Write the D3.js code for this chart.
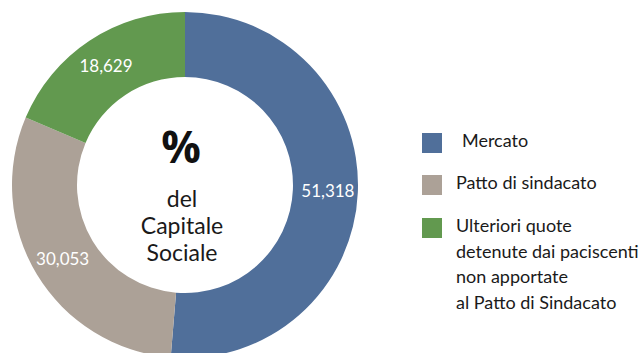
<!DOCTYPE html>
<html>
<head>
<meta charset="utf-8">
<script src="https://cdn.jsdelivr.net/npm/d3@7"></script>
<style>
  html, body { margin: 0; padding: 0; background: #fff; }
  svg { display: block; font-family: Lato, "Open Sans", sans-serif; }
</style>
</head>
<body>
<svg id="chart" width="640" height="353"></svg>
<script>
// Composizione del capitale sociale (%)
const categories = ["Mercato", "Patto di sindacato", "Ulteriori quote detenute dai paciscenti non apportate al Patto di Sindacato"];
const values = [51.318, 30.053, 18.629];
const valueLabels = ["51,318", "30,053", "18,629"];
const colors = ["#506f9a", "#aca197", "#62994f"];
const legendLines = [
  ["Mercato"],
  ["Patto di sindacato"],
  ["Ulteriori quote", "detenute dai paciscenti", "non apportate", "al Patto di Sindacato"]
];
const centerLines = ["del", "Capitale", "Sociale"];

const svg = d3.select("#chart");
const cx = 185, cy = 185;
const outerR = 173, innerR = 108;

const pie = d3.pie().sort(null).value(d => d);
const arcs = pie(values);
const arc = d3.arc().innerRadius(innerR).outerRadius(outerR);
const labelArc = d3.arc().innerRadius(143).outerRadius(143);

const g = svg.append("g").attr("transform", `translate(${cx},${cy})`);

g.selectAll("path.slice")
  .data(arcs)
  .join("path")
  .attr("class", "slice")
  .attr("d", arc)
  .attr("fill", (d, i) => colors[i]);

g.selectAll("text.val")
  .data(arcs)
  .join("text")
  .attr("class", "val")
  .attr("transform", d => `translate(${labelArc.centroid(d)})`)
  .attr("text-anchor", "middle")
  .attr("dominant-baseline", "central")
  .attr("fill", "#fff")
  .attr("font-size", 17)
  .text((d, i) => valueLabels[i]);

// Testo centrale
g.append("text")
  .attr("x", -4).attr("y", -22)
  .attr("text-anchor", "middle")
  .attr("font-family", "'Open Sans', sans-serif")
  .attr("font-size", 44)
  .attr("font-weight", "bold")
  .attr("fill", "#111")
  .text("%");

g.selectAll("text.center")
  .data(centerLines)
  .join("text")
  .attr("class", "center")
  .attr("x", -3)
  .attr("y", (d, i) => 22 + i * 27)
  .attr("text-anchor", "middle")
  .attr("font-size", 23)
  .attr("fill", "#1a1a1a")
  .text(d => d);

// Legenda
const legendTop = [133, 175, 218];
const lg = svg.append("g");
const items = lg.selectAll("g.item")
  .data(categories)
  .join("g")
  .attr("class", "item")
  .attr("transform", (d, i) => `translate(422,${legendTop[i]})`);

items.append("rect")
  .attr("width", 20).attr("height", 20)
  .attr("fill", (d, i) => colors[i]);

items.each(function(d, i) {
  const t = d3.select(this).append("text")
    .attr("fill", "#1a1a1a")
    .attr("font-size", 18);
  legendLines[i].forEach((line, j) => {
    t.append("tspan")
      .attr("x", i === 0 ? 40 : 34)
      .attr("y", 14 + j * 25.5)
      .text(line);
  });
});
</script>
</body>
</html>
